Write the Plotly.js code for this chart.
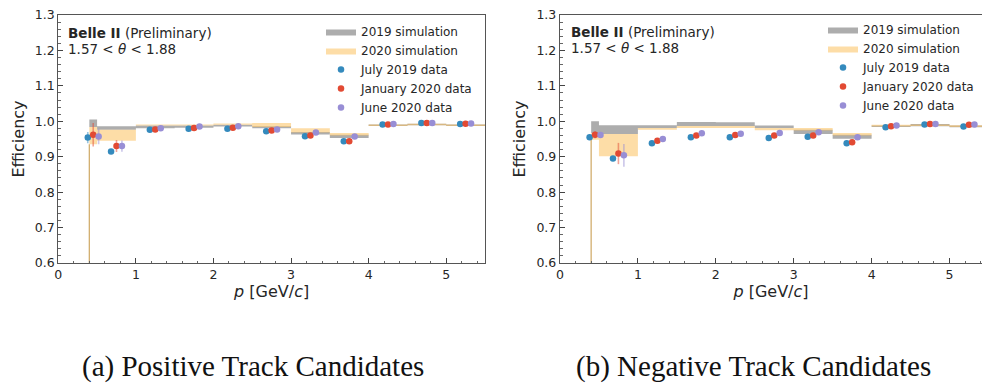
<!DOCTYPE html>
<html>
<head>
<meta charset="utf-8">
<script src="https://cdn.plot.ly/plotly-3.0.1.min.js"></script>
<style>html,body{margin:0;padding:0;background:#fff;}#chart{width:982px;height:388px;}</style>
</head>
<body>
<div id="chart"></div>
<script>
// ---- data ----
const binEdges = [0.4, 0.5, 1.0, 1.5, 2.0, 2.5, 3.0, 3.5, 4.0, 4.5, 5.0, 5.5];
const histBaseline = 0.0;

// (a) positive track candidates
const posSim2019Lo = [0.984, 0.976, 0.980, 0.982, 0.985, 0.980, 0.963, 0.953, 0.987, 0.989, 0.987];
const posSim2019Hi = [1.005, 0.986, 0.988, 0.988, 0.990, 0.986, 0.970, 0.962, 0.991, 0.993, 0.991];
const posSim2020Lo = [0.935, 0.945, 0.988, 0.988, 0.990, 0.984, 0.968, 0.960, 0.987, 0.989, 0.987];
const posSim2020Hi = [0.984, 0.976, 0.991, 0.991, 0.994, 0.995, 0.980, 0.967, 0.991, 0.993, 0.991];
const posJul2019 = [0.954, 0.915, 0.976, 0.979, 0.979, 0.972, 0.958, 0.944, 0.991, 0.995, 0.992];
const posJan2020 = [0.962, 0.930, 0.977, 0.981, 0.982, 0.974, 0.960, 0.944, 0.991, 0.995, 0.993];
const posJun2020 = [0.957, 0.930, 0.980, 0.985, 0.986, 0.977, 0.968, 0.957, 0.992, 0.995, 0.994];
const posJul2019Err = [0.016, 0.004, 0.002, 0.002, 0.002, 0.002, 0.002, 0.003, 0.002, 0.002, 0.002];
const posJan2020Err = [0.033, 0.017, 0.004, 0.003, 0.003, 0.003, 0.004, 0.004, 0.003, 0.003, 0.003];
const posJun2020Err = [0.022, 0.016, 0.004, 0.003, 0.003, 0.003, 0.004, 0.004, 0.003, 0.003, 0.003];

// (b) negative track candidates
const negSim2019Lo = [0.967, 0.964, 0.981, 0.987, 0.987, 0.981, 0.964, 0.951, 0.984, 0.986, 0.983];
const negSim2019Hi = [1.000, 0.989, 0.989, 0.998, 0.997, 0.988, 0.976, 0.962, 0.988, 0.992, 0.988];
const negSim2020Lo = [0.948, 0.901, 0.976, 0.981, 0.981, 0.975, 0.974, 0.960, 0.985, 0.987, 0.984];
const negSim2020Hi = [0.967, 0.964, 0.981, 0.987, 0.987, 0.981, 0.981, 0.967, 0.990, 0.991, 0.989];
const negJul2019 = [0.955, 0.895, 0.938, 0.955, 0.955, 0.953, 0.956, 0.938, 0.983, 0.991, 0.985];
const negJan2020 = [0.962, 0.909, 0.945, 0.960, 0.961, 0.960, 0.960, 0.941, 0.986, 0.992, 0.990];
const negJun2020 = [0.961, 0.904, 0.950, 0.966, 0.965, 0.967, 0.969, 0.955, 0.988, 0.992, 0.991];
const negJul2019Err = [0.006, 0.004, 0.002, 0.002, 0.002, 0.002, 0.002, 0.003, 0.002, 0.002, 0.002];
const negJan2020Err = [0.010, 0.030, 0.004, 0.003, 0.003, 0.003, 0.004, 0.004, 0.003, 0.003, 0.003];
const negJun2020Err = [0.008, 0.032, 0.004, 0.003, 0.003, 0.003, 0.004, 0.004, 0.003, 0.003, 0.003];

const seriesNames = ["2019 simulation", "2020 simulation", "July 2019 data", "January 2020 data", "June 2020 data"];
const xTickVals = [0, 1, 2, 3, 4, 5];
const yTickVals = [0.6, 0.7, 0.8, 0.9, 1.0, 1.1, 1.2, 1.3];
const captions = ["(a) Positive Track Candidates", "(b) Negative Track Candidates"];

// ---- styles ----
const C_GREY = 'rgba(119,119,119,0.6)';
const C_ORANGE = 'rgba(251,193,94,0.55)';
const C_BLUE = '#348ABD', C_RED = '#E24A33', C_PURPLE = '#988ED5';
const C_BLUE_E = 'rgba(52,138,189,0.5)', C_RED_E = 'rgba(226,74,51,0.5)', C_PURPLE_E = 'rgba(152,142,213,0.5)';
const dodge = 0.07;

const centers = binEdges.slice(0, -1).map((e, i) => (e + binEdges[i + 1]) / 2);
function stepY(v) { return v.concat([v[v.length - 1]]); }

function band(lo, hi, color, name, xa, ya, leg, show) {
  return [
    {x: binEdges, y: stepY(lo), xaxis: xa, yaxis: ya, mode: 'lines', line: {shape: 'hv', width: 0}, showlegend: false, hoverinfo: 'skip'},
    {x: binEdges, y: stepY(hi), xaxis: xa, yaxis: ya, mode: 'lines', line: {shape: 'hv', width: 0}, fill: 'tonexty', fillcolor: color, name: name, legend: leg, showlegend: show, hoverinfo: 'skip'}
  ];
}
function points(vals, errs, off, color, ecolor, name, xa, ya, leg) {
  return {x: centers.map(c => c + off), y: vals, xaxis: xa, yaxis: ya, mode: 'markers', name: name, legend: leg,
    marker: {color: color, size: 6.5},
    error_y: {type: 'data', array: errs, visible: true, color: ecolor, thickness: 1.6, width: 0}};
}
function baseLine(lo, xa, ya) {
  return {x: [binEdges[0], binEdges[0]], y: [histBaseline, lo[0]], xaxis: xa, yaxis: ya, mode: 'lines',
    line: {color: 'rgba(205,165,95,0.9)', width: 1.3}, showlegend: false, hoverinfo: 'skip'};
}

const traces = [].concat(
  band(posSim2019Lo, posSim2019Hi, C_GREY, seriesNames[0], 'x', 'y', 'legend', true),
  band(posSim2020Lo, posSim2020Hi, C_ORANGE, seriesNames[1], 'x', 'y', 'legend', true),
  [baseLine(posSim2020Lo, 'x', 'y'),
   points(posJul2019, posJul2019Err, -dodge, C_BLUE, C_BLUE_E, seriesNames[2], 'x', 'y', 'legend'),
   points(posJan2020, posJan2020Err, 0, C_RED, C_RED_E, seriesNames[3], 'x', 'y', 'legend'),
   points(posJun2020, posJun2020Err, dodge, C_PURPLE, C_PURPLE_E, seriesNames[4], 'x', 'y', 'legend')],
  band(negSim2019Lo, negSim2019Hi, C_GREY, seriesNames[0], 'x2', 'y2', 'legend2', true),
  band(negSim2020Lo, negSim2020Hi, C_ORANGE, seriesNames[1], 'x2', 'y2', 'legend2', true),
  [baseLine(negSim2020Lo, 'x2', 'y2'),
   points(negJul2019, negJul2019Err, -dodge, C_BLUE, C_BLUE_E, seriesNames[2], 'x2', 'y2', 'legend2'),
   points(negJan2020, negJan2020Err, 0, C_RED, C_RED_E, seriesNames[3], 'x2', 'y2', 'legend2'),
   points(negJun2020, negJun2020Err, dodge, C_PURPLE, C_PURPLE_E, seriesNames[4], 'x2', 'y2', 'legend2')]
);

const W = 982, H = 388;
const tickFont = {family: 'DejaVu Sans', size: 12.5, color: '#262626'};
const titleFont = {family: 'DejaVu Sans', size: 16, color: '#262626'};
function xAxis(domain, range, anchor) {
  return {domain: domain, range: range, anchor: anchor, tickvals: xTickVals, ticktext: xTickVals.map(String),
    ticks: 'inside', ticklen: 5, tickwidth: 1, tickcolor: '#444', showline: true, linecolor: '#555', linewidth: 1.2,
    mirror: true, showgrid: false, zeroline: false, tickfont: tickFont,
    minor: {dtick: 0.2, ticks: 'inside', ticklen: 2.5, tickcolor: '#666', showgrid: false},
    title: {text: '<i>p</i> [GeV/<i>c</i>]', font: titleFont, standoff: 4}, automargin: false};
}
function yAxis(domain, anchor, mirror) {
  return {domain: domain, range: [0.6, 1.3], anchor: anchor, tickvals: yTickVals, ticktext: yTickVals.map(v => v.toFixed(1)),
    ticks: 'inside', ticklen: 5, tickwidth: 1, tickcolor: '#444', showline: true, linecolor: '#555', linewidth: 1.2,
    mirror: mirror, showgrid: false, zeroline: false, tickfont: tickFont,
    minor: {dtick: 0.02, ticks: 'inside', ticklen: 2.5, tickcolor: '#666', showgrid: false},
    title: {text: 'Efficiency', font: titleFont, standoff: 6}, automargin: false};
}
const yDom = [(H - 263) / H, (H - 15) / H];
const legendStyle = {font: {family: 'DejaVu Sans', size: 12, color: '#262626'}, bgcolor: 'rgba(0,0,0,0)',
  xanchor: 'left', yanchor: 'top', tracegroupgap: 0, itemwidth: 30, traceorder: 'normal'};
const layout = {
  width: W, height: H, margin: {l: 0, r: 0, t: 0, b: 0}, paper_bgcolor: '#fff', plot_bgcolor: '#fff',
  xaxis: xAxis([58.3 / W, 485 / W], [0, 5.5], 'y'),
  yaxis: yAxis(yDom, 'x', true),
  xaxis2: xAxis([560 / W, 1], [0, (982 - 560) / 77.9], 'y2'),
  yaxis2: yAxis(yDom, 'x2', false),
  legend: Object.assign({x: 321 / W, y: (H - 17) / H}, legendStyle),
  legend2: Object.assign({x: 823 / W, y: (H - 15) / H}, legendStyle),
  annotations: [
    {xref: 'paper', yref: 'paper', x: 66 / W, y: (H - 33) / H, xanchor: 'left', yanchor: 'middle', showarrow: false,
     text: '<b>Belle II</b> (Preliminary)', font: {family: 'DejaVu Sans', size: 13.5, color: '#262626'}},
    {xref: 'paper', yref: 'paper', x: 66 / W, y: (H - 49) / H, xanchor: 'left', yanchor: 'middle', showarrow: false,
     text: '1.57 < <i>θ</i> < 1.88', font: {family: 'DejaVu Sans', size: 13.5, color: '#262626'}},
    {xref: 'paper', yref: 'paper', x: 569 / W, y: (H - 32) / H, xanchor: 'left', yanchor: 'middle', showarrow: false,
     text: '<b>Belle II</b> (Preliminary)', font: {family: 'DejaVu Sans', size: 13.5, color: '#262626'}},
    {xref: 'paper', yref: 'paper', x: 569 / W, y: (H - 48) / H, xanchor: 'left', yanchor: 'middle', showarrow: false,
     text: '1.57 < <i>θ</i> < 1.88', font: {family: 'DejaVu Sans', size: 13.5, color: '#262626'}},
    {xref: 'paper', yref: 'paper', x: 253 / W, y: (H - 366) / H, xanchor: 'center', yanchor: 'middle', showarrow: false,
     text: captions[0], font: {family: 'Liberation Serif', size: 29, color: '#111'}},
    {xref: 'paper', yref: 'paper', x: 753 / W, y: (H - 366) / H, xanchor: 'center', yanchor: 'middle', showarrow: false,
     text: captions[1], font: {family: 'Liberation Serif', size: 29, color: '#111'}}
  ]
};
Plotly.newPlot('chart', traces, layout, {staticPlot: true, displayModeBar: false});
</script>
</body>
</html>
